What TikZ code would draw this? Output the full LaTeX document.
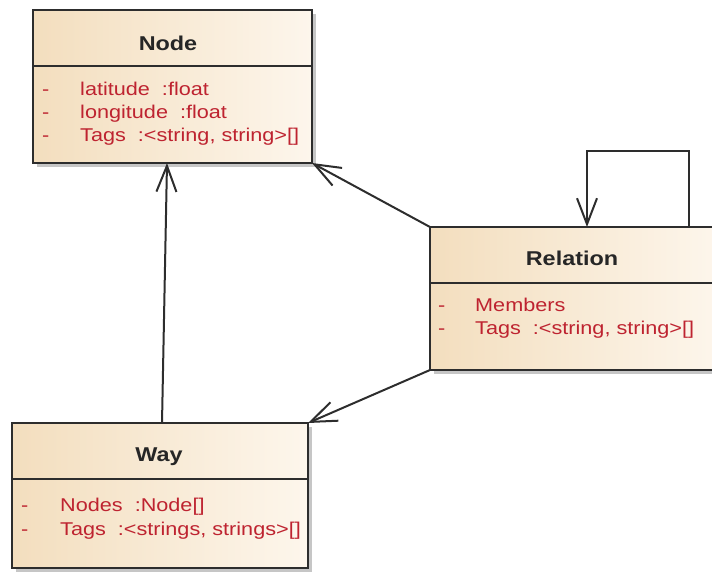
\documentclass[tikz,border=0pt]{standalone}
\usepackage{fontspec}
\setmainfont{Liberation Sans}[FakeStretch=1.17]
\usetikzlibrary{arrows.meta,shadows}
\definecolor{boxl}{RGB}{243,222,190}
\definecolor{boxr}{RGB}{253,246,236}
\definecolor{attr}{RGB}{190,35,48}
\definecolor{edge}{RGB}{45,45,45}
\tikzset{
  umlbox/.style={draw=edge, line width=2pt, left color=boxl, right color=boxr,
    inner sep=0pt, outer sep=0pt, anchor=north west,
    drop shadow={shadow xshift=4pt, shadow yshift=-4pt, opacity=0.45}},
  divider/.style={draw=edge, line width=2pt},
  title/.style={font=\fontsize{20}{23}\selectfont\bfseries, text=black!85, inner sep=0pt},
  attrtext/.style={font=\fontsize{18.5}{21}\selectfont, text=attr, inner sep=0pt, anchor=base west},
  conn/.style={draw=edge, line width=2pt, -{Straight Barb[length=26pt,width=20pt,line width=2pt]}}
}
\begin{document}
\begin{tikzpicture}[x=1pt,y=-1pt]
\useasboundingbox (0,0) rectangle (712,571);
% boxes
\node[umlbox, minimum width=279pt, minimum height=153pt] (node) at (33,10) {};
\node[umlbox, minimum width=290pt, minimum height=143pt] (rel) at (430,227) {};
\node[umlbox, minimum width=296pt, minimum height=145pt] (way) at (12,423) {};
% dividers
\draw[divider] ([yshift=-56pt]node.north west) -- ([yshift=-56pt]node.north east);
\draw[divider] ([yshift=-56pt]rel.north west) -- ([yshift=-56pt]rel.north east);
\draw[divider] ([yshift=-56pt]way.north west) -- ([yshift=-56pt]way.north east);
% titles
\node[title] (tn) at (168,43) {Node};
\node[title] (tr) at (572,258) {Relation};
\node[title] (tw) at (159,457) {Way};
% Node attributes
\node[attrtext] (d1) at (42,95) {-};
\node[attrtext] (a1) at (80,95) {latitude\ \ :float};
\node[attrtext] (d2) at (42,118) {-};
\node[attrtext] (a2) at (80,118) {longitude\ \ :float};
\node[attrtext] (d3) at (42,141) {-};
\node[attrtext] (a3) at (80,141) {Tags\ \ :<string, string>[]};
% Relation attributes
\node[attrtext] (d4) at (438,311) {-};
\node[attrtext] (a4) at (475,311) {Members};
\node[attrtext] (d5) at (438,334) {-};
\node[attrtext] (a5) at (475,334) {Tags\ \ :<string, string>[]};
% Way attributes
\node[attrtext] (d6) at (21,511) {-};
\node[attrtext] (a6) at (60,511) {Nodes\ \ :Node[]};
\node[attrtext] (d7) at (21,535) {-};
\node[attrtext] (a7) at (60,535) {Tags\ \ :<strings, strings>[]};
% connectors
\draw[conn] ([xshift=150pt]way.north west) -- ([xshift=134pt]node.south west);
\draw[conn] (rel.north west) -- (node.south east);
\draw[conn] (rel.south west) -- (way.north east);
\coordinate (loopA) at (689,151);
\draw[conn] ([xshift=259pt]rel.north west) |- (loopA) -| ([xshift=157pt]rel.north west);
\end{tikzpicture}
\end{document}
